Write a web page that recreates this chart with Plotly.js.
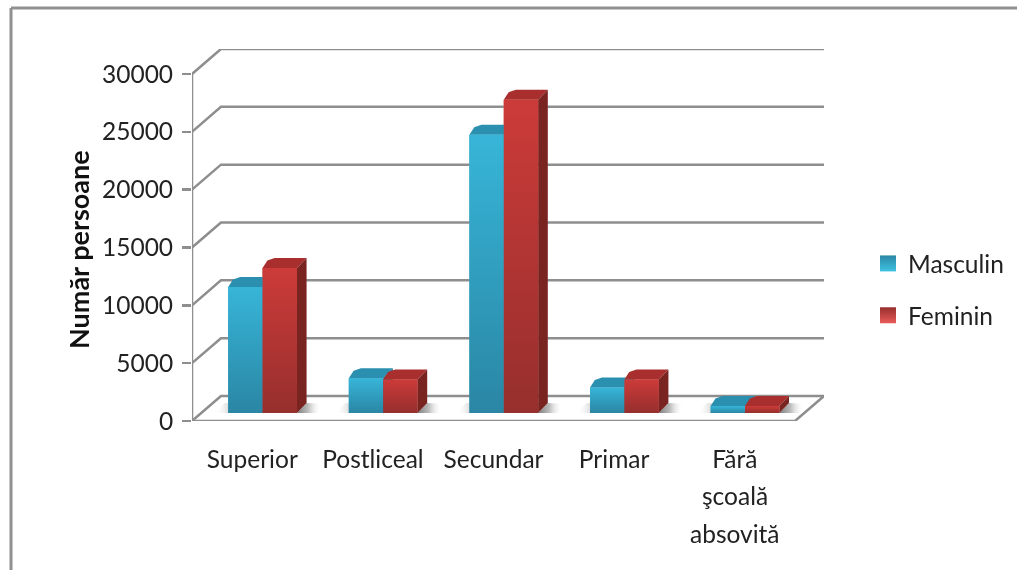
<!DOCTYPE html>
<html>
<head>
<meta charset="utf-8">
<script src="https://cdn.plot.ly/plotly-3.0.1.min.js"></script>
<style>html,body{margin:0;padding:0;background:#fff}#c{width:1017px;height:570px;filter:blur(0.5px)}</style>
</head>
<body>
<div id="c"></div>
<script>
var categories = ['Superior', 'Postliceal', 'Secundar', 'Primar', 'Fără'];
var masculin = [10900, 3000, 24050, 2200, 600];
var feminin = [12540, 2900, 27075, 2900, 600];
var yTicks = [0, 5000, 10000, 15000, 20000, 25000, 30000];
var extraLines = [['şcoală', 0.0], ['absovită', 1.0]];

var W = 1017, H = 570, L = 192, R = 193, T = 49, B = 149;
var wallDX = 0.24, wallDY = 2160;       // depth of the chart box, axis units
var barW = 0.285, barShift = 0.085;
var faceDX = 0.08, faceDY = 865;        // depth of each bar
var baseY = 691;                        // bars stand inside the floor
var lineCol = '#8e8e8e', font = 'Lato, "Open Sans", sans-serif', fs = 24.5;

var traces = [];
function grid(xs, ys) {
  traces.push({type:'scatter', mode:'lines', x:xs, y:ys, showlegend:false, hoverinfo:'skip',
    line:{color:lineCol, width:2.5}});
}
yTicks.forEach(function (v) {
  grid([-0.5, -0.5 + wallDX, 4.5 + wallDX], [v, v + wallDY, v + wallDY]);
});
grid([-0.5, 4.5, 4.5 + wallDX], [0, 0, wallDY]);
grid([-0.5, -0.5], [0, 30000]);

function poly(xs, ys, fill, grad) {
  var t = {type:'scatter', mode:'lines', x:xs.concat(xs[0]), y:ys.concat(ys[0]), fill:'toself',
    line:{width:0, color:'rgba(0,0,0,0)'}, showlegend:false, hoverinfo:'skip'};
  if (grad) { t.fillgradient = grad; t.fillcolor = fill; } else { t.fillcolor = fill; }
  traces.push(t);
}

// floor shadows
categories.forEach(function (c, i) {
  var a = i + barShift - barW, b = i + barShift + barW;
  poly([b, b + 0.17, b + 0.2, b + faceDX], [baseY, baseY, baseY + 800, baseY + faceDY], '#aaa',
    {type:'horizontal', colorscale:[[0,'rgba(90,90,90,0.8)'],[0.45,'rgba(140,140,140,0.6)'],[1,'rgba(255,255,255,0)']]});
  poly([a - 0.11, a, a + faceDX, a - 0.03], [baseY, baseY, baseY + faceDY, baseY + faceDY], '#ccc',
    {type:'horizontal', colorscale:[[0,'rgba(255,255,255,0)'],[1,'rgba(120,120,120,0.7)']]});
});

// real bars
traces.push({type:'bar', name:'Masculin', x:categories.map(function(c,i){return i+barShift;}), y:masculin,
  base:baseY, width:barW, offset:-barW, marker:{color:'#2f9fc0', line:{width:0}}, showlegend:false});
traces.push({type:'bar', name:'Feminin', x:categories.map(function(c,i){return i+barShift;}), y:feminin,
  base:baseY, width:barW, offset:0, marker:{color:'#b53533', line:{width:0}}, showlegend:false});

// 3-D faces of the bars
function faces(vals, off, topC, sideC, hi, lo) {
  vals.forEach(function (v, i) {
    var a = i + barShift + off, b = a + barW, y0 = baseY, y1 = baseY + v;
    poly([a, b, b + faceDX, a + faceDX + 0.02, a + 0.04],
         [y1, y1, y1 + faceDY, y1 + faceDY, y1 + 0.75 * faceDY], topC);
    poly([b, b + faceDX, b + faceDX, b], [y0, y0 + faceDY, y1 + faceDY, y1], sideC);
    poly([a, b, b, a], [y0, y0, y1, y1], hi,
      {type:'vertical', colorscale:[[0, lo], [1, hi]]});
  });
}
faces(masculin, -barW, '#2b8fb0', '#1f6a85', '#37b5d8', '#2a86a4');
faces(feminin, 0, '#a82f2d', '#7a2422', '#cc3b39', '#962f2d');

// legend entries
traces.push({type:'scatter', mode:'markers', name:'Masculin', x:[null], y:[null], legendgroup:'m',
  marker:{symbol:'square', size:16, color:'#2a86a4', gradient:{type:'vertical', color:'#3fc3e3'}}});
traces.push({type:'scatter', mode:'markers', name:'Feminin', x:[null], y:[null], legendgroup:'f',
  marker:{symbol:'square', size:16, color:'#962f2d', gradient:{type:'vertical', color:'#e85a58'}}});

var pw = W - L - R, ph = H - T - B;
function px(x) { return (x - L) / pw; }
function py(y) { return (H - B - y) / ph; }

var annots = extraLines.map(function (e) {
  return {xref:'x', yref:'paper', x:4, y:py(495 + e[1] * 38), text:e[0], showarrow:false,
    xanchor:'center', yanchor:'middle', font:{size:fs, color:'#222'}};
});
annots.push({xref:'paper', yref:'paper', x:px(78), y:py(250), text:'<b>Număr persoane</b>', textangle:-90,
  showarrow:false, xanchor:'center', yanchor:'middle', font:{size:27, color:'#111'}});

var layout = {
  width: W, height: H, margin: {l:L, r:R, t:T, b:B, autoexpand:false},
  paper_bgcolor:'#fff', plot_bgcolor:'rgba(0,0,0,0)', barmode:'overlay',
  font:{family:font, size:fs, color:'#222'},
  xaxis:{range:[-0.5, 4.5 + wallDX], tickmode:'array', tickvals:[0,1,2,3,4], ticktext:categories,
    showgrid:false, zeroline:false, showline:false, ticks:'', ticklabelstandoff:21,
    tickfont:{size:fs}, automargin:false},
  yaxis:{range:[0, 30000 + wallDY], tickmode:'array', tickvals:yTicks, ticktext:yTicks.map(String),
    showgrid:false, zeroline:false, showline:false, ticks:'outside', ticklen:9, tickwidth:2.5, tickcolor:lineCol,
    tickfont:{size:fs}, ticklabelstandoff:4, automargin:false},
  legend:{x:px(868), y:py(241), xanchor:'left', yanchor:'top', tracegroupgap:17,
    font:{size:fs, color:'#222'}, bgcolor:'rgba(0,0,0,0)'},
  shapes:[
    {type:'line', xref:'paper', yref:'paper', x0:px(11), x1:px(1017), y0:py(8), y1:py(8), line:{color:'#909090', width:3}},
    {type:'line', xref:'paper', yref:'paper', x0:px(11), x1:px(11), y0:py(8), y1:py(570), line:{color:'#909090', width:3}}
  ],
  annotations: annots
};
Plotly.newPlot('c', traces, layout, {displayModeBar:false, staticPlot:true});
</script>
</body>
</html>
